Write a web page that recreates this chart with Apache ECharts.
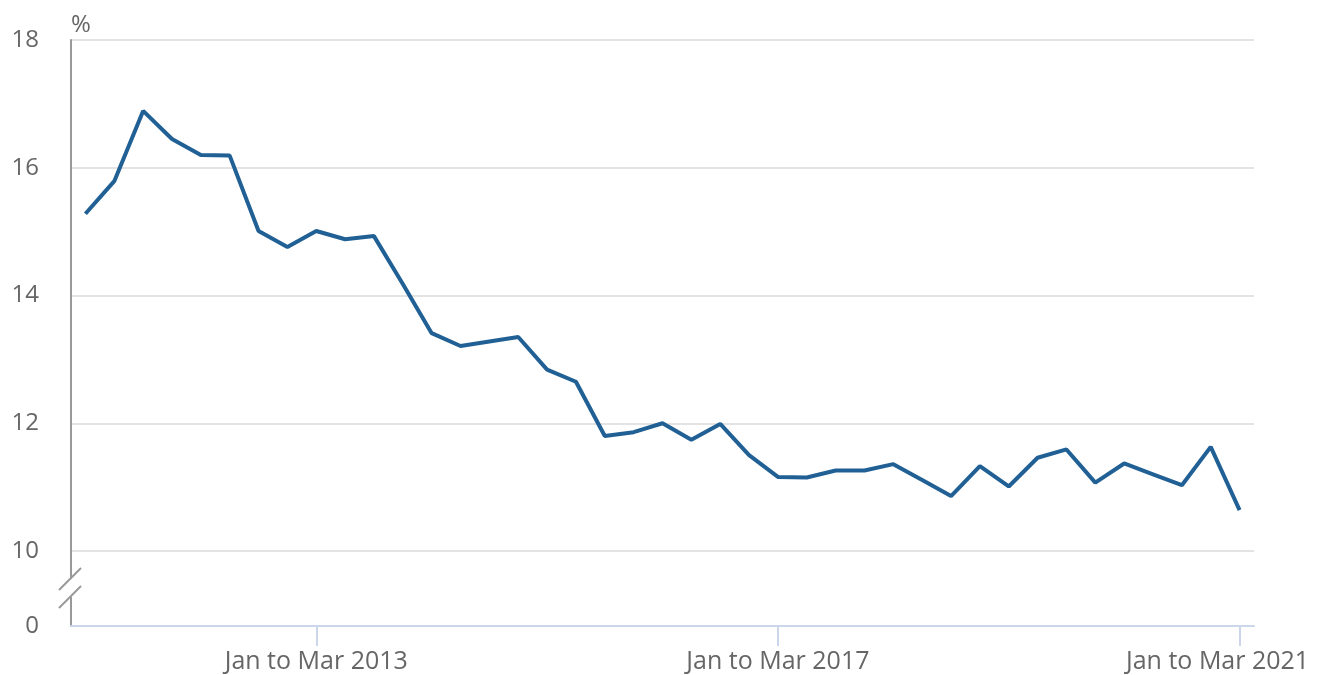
<!DOCTYPE html>
<html>
<head>
<meta charset="utf-8">
<script src="https://cdn.jsdelivr.net/npm/echarts@6/dist/echarts.min.js"></script>
<style>
  html, body { margin: 0; padding: 0; background: #fff; }
  #main { width: 1321px; height: 675px; }
</style>
</head>
<body>
<div id="main"></div>
<script>
// quarters from Jan to Mar 2011 up to Jan to Mar 2021
var months = ["Jan to Mar", "Apr to Jun", "Jul to Sep", "Oct to Dec"];
var quarters = [];
for (var yr = 2011; yr <= 2021; yr++) {
  for (var q = 0; q < 4; q++) {
    if (yr === 2021 && q > 0) break;
    quarters.push(months[q] + " " + yr);
  }
}
var shownLabels = ["Jan to Mar 2013", "Jan to Mar 2017", "Jan to Mar 2021"];

var rate = [
  15.28, 15.79, 16.89, 16.45, 16.20, 16.19, 15.01, 14.76, 15.01, 14.88,
  14.93, 14.18, 13.41, 13.21, 13.28, 13.35, 12.84, 12.65, 11.80, 11.86,
  12.00, 11.74, 11.99, 11.50, 11.16, 11.15, 11.26, 11.26, 11.36, 11.11,
  10.86, 11.33, 11.01, 11.46, 11.59, 11.07, 11.37, 11.20, 11.03, 11.63,
  10.64
];

// axis break: 0 sits 75px under 10, one unit is ~63.9px
var yMin = 10 - 75 / 63.875;

function isShown(i) {
  return shownLabels.indexOf(quarters[i]) >= 0;
}

var myChart = echarts.init(document.getElementById("main"));

var option = {
  animation: false,
  textStyle: { fontFamily: "Open Sans" },
  grid: { left: 71, right: 67, top: 40, bottom: 49 },
  xAxis: {
    type: "category",
    data: quarters,
    boundaryGap: true,
    axisLine: { lineStyle: { color: "#ccd6eb", width: 2 } },
    axisTick: {
      show: true,
      alignWithLabel: true,
      length: 20,
      lineStyle: { color: "#ccd6eb", width: 2 },
      interval: function (i) { return isShown(i); }
    },
    axisLabel: {
      color: "#666",
      fontSize: 25,
      margin: 23,
      interval: function (i) { return isShown(i); },
      formatter: function (v) {
        return v === "Jan to Mar 2021" ? "{last|" + v + "}" : v;
      },
      rich: {
        last: { fontSize: 25, color: "#666", fontFamily: "Open Sans", padding: [0, 44, 0, 0] }
      }
    },
    splitLine: { show: false }
  },
  yAxis: {
    type: "value",
    min: yMin,
    max: 18,
    name: "%",
    nameLocation: "end",
    nameGap: 3,
    nameTextStyle: { color: "#666", fontSize: 24, align: "left" },
    axisLine: { show: true, lineStyle: { color: "#999", width: 2 } },
    axisTick: { show: false },
    axisLabel: {
      color: "#666",
      fontSize: 24,
      margin: 32,
      formatter: function (v) { return v < 10 ? "0" : String(Math.round(v)); }
    },
    splitLine: { lineStyle: { color: "#e3e3e3", width: 2 } }
  },
  graphic: [
    { type: "rect", z: 100, shape: { x: 64, y: 579, width: 12, height: 18 }, style: { fill: "#fff" } },
    { type: "line", z: 101, shape: { x1: 59, y1: 590, x2: 81, y2: 568 }, style: { stroke: "#999", lineWidth: 2 } },
    { type: "line", z: 101, shape: { x1: 59, y1: 608, x2: 81, y2: 586 }, style: { stroke: "#999", lineWidth: 2 } }
  ],
  series: [
    {
      name: "rate",
      type: "line",
      data: rate,
      symbol: "none",
      lineStyle: { color: "#206095", width: 4 },
      itemStyle: { color: "#206095" }
    }
  ]
};

myChart.setOption(option);
</script>
</body>
</html>
